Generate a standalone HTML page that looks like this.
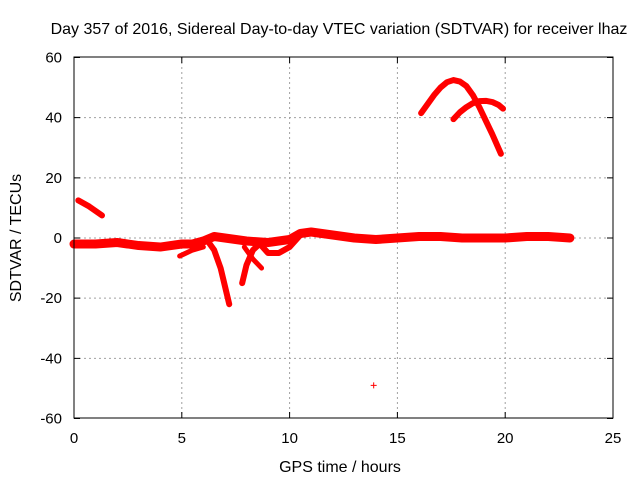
<!DOCTYPE html>
<html><head><meta charset="utf-8"><style>
body{margin:0;background:#fff}
svg{display:block;font-family:"Liberation Sans",sans-serif}
</style></head><body>
<svg id="c" width="640" height="480">
<text x="339" y="34" font-size="16" text-anchor="middle">Day 357 of 2016, Sidereal Day-to-day VTEC variation (SDTVAR) for receiver lhaz</text>
<text x="340" y="472" font-size="16" text-anchor="middle">GPS time / hours</text>
<text transform="translate(21,238) rotate(-90)" font-size="16" text-anchor="middle">SDTVAR / TECUs</text>
<g id="grid"></g>
<g id="marks"></g>
<rect x="74" y="57" width="539" height="361" fill="none" stroke="#000"/>
<g id="ticks"></g>
</svg>
<script>
const xTicks=[0,5,10,15,20,25];
const yTicks=[-60,-40,-20,0,20,40,60];
const mainX=[0,1,2,3,4,5,5.5,6,6.5,7,8,9,9.5,10,10.5,11,12,13,14,15,16,17,18,19,20,21,22,23];
const mainY=[-2,-2,-1.5,-2.5,-3,-2,-2,-1,0.5,0,-1,-1.5,-1,-0.5,1.5,2,1,0,-0.5,0,0.5,0.5,0,0,0,0.5,0.5,0];
const spurX=[0.2,0.7,1.3];const spurY=[12.5,10.5,7.5];
const downX=[6.2,6.5,6.8,7,7.2];const downY=[-1,-4,-10,-16,-22];
const brAX=[7.8,8,8.3,8.6];const brAY=[-15,-9,-4,-2];
const brBX=[7.9,8.3,8.7];const brBY=[-3,-7,-10];
const dipX=[8.5,9,9.5,10,10.5];const dipY=[-1,-5,-5,-3,1];
const dip5X=[4.9,5.5,6];const dip5Y=[-6,-4,-3];
const arc1X=[16.1,16.4,16.7,17,17.3,17.6,17.9,18.2,18.5,18.8,19.1,19.4,19.8];
const arc1Y=[41.5,44.5,47.5,50,51.8,52.5,52,50.5,47.5,43.5,39,34.5,28];
const arc2X=[17.6,17.9,18.2,18.5,18.8,19.1,19.4,19.7,19.9];
const arc2Y=[39.5,41.8,43.5,44.8,45.5,45.6,45.2,44.2,43];
const outX=[13.9];const outY=[-49];
const sx=v=>74+v*539/25, sy=v=>238-v*361/120;
const NS='http://www.w3.org/2000/svg';
const g=document.getElementById('grid'),t=document.getElementById('ticks'),m=document.getElementById('marks');
function mk(tag,a,p){const e=document.createElementNS(NS,tag);for(const k in a)e.setAttribute(k,a[k]);p.appendChild(e);return e;}
xTicks.forEach(v=>{const x=sx(v);
 if(v>0&&v<25){const l=mk('line',{x1:x,x2:x,y1:57,y2:418,stroke:'#a0a0a0','stroke-dasharray':'2,3'},g);}
 const tk=mk('path',{d:`M${x},418v-6M${x},57v6`,stroke:'#000'},t);
 const tx=mk('text',{x:x,y:443,'font-size':15,'text-anchor':'middle'},t);tx.textContent=v;});
yTicks.forEach(v=>{const y=sy(v);
 if(v>-60&&v<60){const l=mk('line',{x1:74,x2:613,y1:y,y2:y,stroke:'#a0a0a0','stroke-dasharray':'2,3'},g);}
 const tk=mk('path',{d:`M74,${y}h6M613,${y}h-6`,stroke:'#000'},t);
 const tx=mk('text',{x:62,y:y+5,'font-size':15,'text-anchor':'end'},t);tx.textContent=v;});
function track(xs,ys,w,name){const d=xs.map((x,i)=>(i?'L':'M')+sx(x)+','+sy(ys[i])).join('');
 const p=mk('path',{d:d,fill:'none',stroke:'#f00','stroke-width':w,'stroke-linejoin':'round','stroke-linecap':'round'},m);
 }
track(mainX,mainY,9,'main-band');
track(spurX,spurY,6,'early-spur');
track(downX,downY,6,'down-spur');
track(brAX,brAY,6,'branch-a');
track(brBX,brBY,5,'branch-b');
track(dipX,dipY,6,'dip-9h');
track(dip5X,dip5Y,5,'dip-5h');
track(arc1X,arc1Y,6,'arc-1');
track(arc2X,arc2Y,6,'arc-2');
outX.forEach((x,i)=>{const p=mk('path',{d:`M${sx(x)-3},${sy(outY[i])}h6M${sx(x)},${sy(outY[i])-3}v6`,stroke:'#f00'},m);});
</script>
</body></html>
